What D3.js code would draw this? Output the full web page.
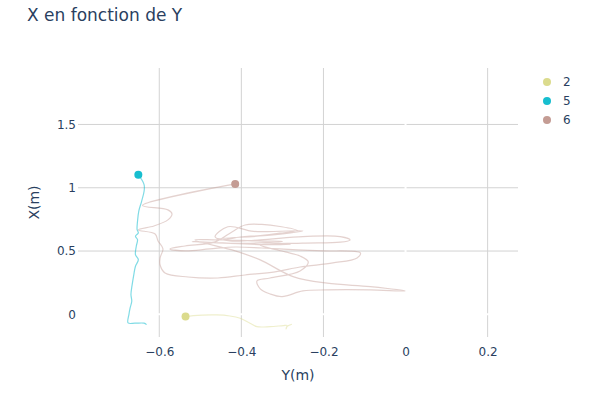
<!DOCTYPE html>
<html>
<head>
<meta charset="utf-8">
<script src="https://cdn.jsdelivr.net/npm/d3@7"></script>
<style>
  body { margin: 0; background: #fff; }
  svg { font-family: "DejaVu Sans", Verdana, sans-serif; }
</style>
</head>
<body>
<script>
// series: trajectory of each tracked object, Y(m) on the horizontal axis, X(m) on the vertical one
const names = ["2", "5", "6"];
const colors = ["#dbdb8d", "#17becf", "#c49c94"];

const y2 = [-0.536, -0.517, -0.460, -0.428, -0.403, -0.379, -0.362, -0.330, -0.298, -0.289, -0.291, -0.289, -0.277];
const x2 = [-0.018, -0.010, -0.005, -0.013, -0.031, -0.070, -0.097, -0.097, -0.089, -0.088, -0.115, -0.096, -0.078];

const y5 = [-0.651, -0.637, -0.637, -0.643, -0.650, -0.653, -0.654, -0.651, -0.658, -0.653, -0.656, -0.658,
            -0.651, -0.658, -0.662, -0.666, -0.669, -0.667, -0.671, -0.674, -0.676, -0.659, -0.637, -0.631];
const x5 = [1.103, 1.025, 0.972, 0.893, 0.814, 0.735, 0.669, 0.643, 0.617, 0.590, 0.538, 0.472,
            0.432, 0.380, 0.314, 0.235, 0.156, 0.103, 0.051, -0.002, -0.068, -0.070, -0.070, -0.081];

const y6 = [-0.415, -0.641, -0.579, -0.569, -0.579, -0.613, -0.651, -0.610, -0.603, -0.591, -0.598, -0.598,
            -0.586, -0.530, -0.457, -0.391, -0.318, -0.257, -0.177, -0.118, -0.110, -0.201, -0.264, -0.350,
            -0.415, -0.477, -0.537, -0.574, -0.537, -0.464, -0.423, -0.391, -0.350, -0.306, -0.264, -0.306,
            -0.354, -0.403, -0.447, -0.513, -0.415, -0.354, -0.274, -0.191, -0.086, -0.001, -0.086, -0.191,
            -0.250, -0.301, -0.330, -0.354, -0.362, -0.330, -0.257, -0.237, -0.257, -0.293, -0.354, -0.250,
            -0.159, -0.135, -0.159, -0.250, -0.354, -0.428, -0.464, -0.433, -0.370, -0.250, -0.330, -0.460,
            -0.360, -0.300, -0.410, -0.520, -0.330, -0.280];
const x6 = [1.030, 0.860, 0.825, 0.793, 0.746, 0.698, 0.667, 0.635, 0.580, 0.517, 0.446, 0.390,
            0.327, 0.295, 0.287, 0.311, 0.335, 0.374, 0.406, 0.446, 0.485, 0.501, 0.509, 0.524,
            0.532, 0.517, 0.501, 0.517, 0.540, 0.572, 0.651, 0.706, 0.710, 0.694, 0.663, 0.641,
            0.622, 0.611, 0.588, 0.588, 0.501, 0.430, 0.298, 0.246, 0.219, 0.185, 0.193, 0.193,
            0.185, 0.140, 0.161, 0.201, 0.264, 0.287, 0.343, 0.414, 0.461, 0.493, 0.548, 0.562,
            0.570, 0.588, 0.614, 0.614, 0.588, 0.580, 0.611, 0.692, 0.655, 0.660, 0.625, 0.595,
            0.580, 0.575, 0.560, 0.575, 0.550, 0.555];

const xTicks = [-0.6, -0.4, -0.2, 0, 0.2];
const yTicks = [0, 0.5, 1, 1.5];

const series = [
  {name: names[0], color: colors[0], h: y2, v: x2},
  {name: names[1], color: colors[1], h: y5, v: x5},
  {name: names[2], color: colors[2], h: y6, v: x6}
];

const width = 595, height = 398;
const plotLeft = 78, plotRight = 518, plotTop = 68, plotBottom = 337;
const textColor = "#2a3f5f";

const x = d3.scaleLinear().domain([-0.798, 0.274]).range([plotLeft, plotRight]);
const y = d3.scaleLinear().domain([-0.179, 1.946]).range([plotBottom, plotTop]);
const fmt = d => d3.format("~g")(d).replace("-", "\u2212");

const svg = d3.select("body").append("svg")
    .attr("width", width)
    .attr("height", height)
    .attr("viewBox", [0, 0, width, height]);

svg.append("defs").append("clipPath").attr("id", "plot")
  .append("rect")
    .attr("x", plotLeft).attr("y", plotTop)
    .attr("width", plotRight - plotLeft).attr("height", plotBottom - plotTop);

// grid
svg.append("g")
    .selectAll("line")
    .data(xTicks.filter(d => d !== 0))
    .join("line")
      .attr("x1", d => x(d)).attr("x2", d => x(d))
      .attr("y1", plotTop).attr("y2", plotBottom)
      .attr("stroke", "#d3d3d3");

svg.append("g")
    .selectAll("line")
    .data(yTicks.filter(d => d !== 0))
    .join("line")
      .attr("x1", plotLeft).attr("x2", plotRight)
      .attr("y1", d => y(d)).attr("y2", d => y(d))
      .attr("stroke", "#d3d3d3");

// zero lines (white, as in the template)
svg.append("line")
    .attr("x1", x(0)).attr("x2", x(0)).attr("y1", plotTop).attr("y2", plotBottom)
    .attr("stroke", "#fff").attr("stroke-width", 2);
svg.append("line")
    .attr("x1", plotLeft).attr("x2", plotRight).attr("y1", y(0)).attr("y2", y(0))
    .attr("stroke", "#fff").attr("stroke-width", 2);

// axes
const xAxis = svg.append("g")
    .attr("transform", `translate(0,${plotBottom})`)
    .call(d3.axisBottom(x).tickValues(xTicks).tickFormat(fmt).tickSize(0).tickPadding(10));
const yAxis = svg.append("g")
    .attr("transform", `translate(${plotLeft},0)`)
    .call(d3.axisLeft(y).tickValues(yTicks).tickFormat(fmt).tickSize(0).tickPadding(2));
[xAxis, yAxis].forEach(a => {
  a.select(".domain").remove();
  a.selectAll("text")
      .attr("fill", textColor)
      .style("font-size", "12px")
      .style("font-family", "'DejaVu Sans', Verdana, sans-serif");
});

// traces
const line = d3.line().curve(d3.curveCatmullRom.alpha(0.5)).x(d => x(d[0])).y(d => y(d[1]));
const plot = svg.append("g").attr("clip-path", "url(#plot)");

plot.selectAll("path")
    .data(series)
    .join("path")
      .attr("fill", "none")
      .attr("stroke", d => d.color)
      .attr("stroke-opacity", d => d.name === "5" ? 0.55 : 0.45)
      .attr("stroke-width", 1.2)
      .attr("stroke-linejoin", "round")
      .attr("d", d => line(d3.zip(d.h, d.v)));

plot.selectAll("circle")
    .data(series)
    .join("circle")
      .attr("cx", d => x(d.h[0]))
      .attr("cy", d => y(d.v[0]))
      .attr("r", 4)
      .attr("fill", d => d.color);

// legend
const legend = svg.append("g")
    .selectAll("g")
    .data(series)
    .join("g")
      .attr("transform", (d, i) => `translate(547,${82 + i * 19})`);
legend.append("circle").attr("r", 4).attr("fill", d => d.color);
legend.append("text")
    .attr("x", 16)
    .attr("dy", "0.35em")
    .attr("fill", textColor)
    .style("font-size", "12px")
    .text(d => d.name);

// titles
svg.append("text")
    .attr("x", 27).attr("y", 21)
    .attr("fill", textColor)
    .style("font-size", "17px")
    .text("X en fonction de Y");

svg.append("text")
    .attr("x", (plotLeft + plotRight) / 2).attr("y", 380)
    .attr("text-anchor", "middle")
    .attr("fill", textColor)
    .style("font-size", "14px")
    .text("Y(m)");

svg.append("text")
    .attr("transform", `translate(39,${(plotTop + plotBottom) / 2}) rotate(-90)`)
    .attr("text-anchor", "middle")
    .attr("fill", textColor)
    .style("font-size", "14px")
    .text("X(m)");
</script>
</body>
</html>
